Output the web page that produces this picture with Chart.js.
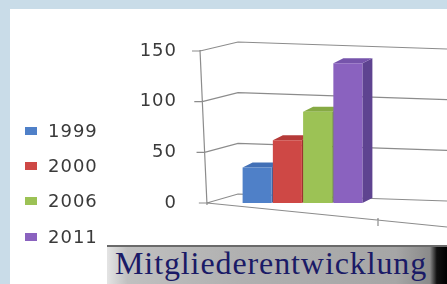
<!DOCTYPE html>
<html lang="de">
<head>
<meta charset="utf-8">
<script src="https://cdn.jsdelivr.net/npm/chart.js@4.4.0/dist/chart.umd.min.js"></script>
<style>
    html, body { margin: 0; padding: 0; }
    body { width: 447px; height: 284px; background: #c9dce8; position: relative; overflow: hidden; }
    #panel { position: absolute; left: 10px; top: 9px; right: 0; bottom: 0; background: #fff; }
    #chart { position: absolute; left: 0; top: 0; }
    #legend { position: absolute; left: 25px; top: 120px; font-family: 'DejaVu Sans', sans-serif; font-size: 18px; color: #3a3a3a; }
    #legend .item { position: absolute; left: 0; white-space: nowrap; letter-spacing: 1px; line-height: 22px; }
    #legend .box { display: inline-block; width: 12px; height: 8px; margin-right: 11px; vertical-align: 2px; }
    #title {
        position: absolute; left: 107px; top: 245px; width: 340px; height: 39px;
        background: linear-gradient(to right, #e4e4e4 0%, #c0c0c0 6%, #b0b0b0 40%, #a6a6a6 85%, #8a8a8a 95%, #111 97%, #000 100%);
        border-top: 2px solid #6a6a6a; box-sizing: border-box;
    }
    #title span {
        position: absolute; left: 8px; top: -2px;
        font-family: 'Liberation Serif', 'Times New Roman', serif; font-size: 32px; letter-spacing: 0.9px; color: #1a1a66;
    }
</style>
</head>
<body>
<div id="panel"></div>
<canvas id="chart" width="447" height="284"></canvas>
<div id="legend"></div>
<div id="title"><span>Mitgliederentwicklung</span></div>
<script>
    const years = ['1999', '2000', '2006', '2011'];
    const members = [35, 62, 90, 138];
    const yTicks = [0, 50, 100, 150];

    const frontColors = ['#4f80c8', '#ce4845', '#9cc255', '#8a62bf'];
    const topColors = ['#4270b6', '#b53a38', '#86aa44', '#7654ab'];
    const sideColors = ['#3b619d', '#9d3230', '#73933a', '#5e4390'];

    // legend as html, rows taken from the years list
    const legendEl = document.getElementById('legend');
    const rowY = [0, 35, 70, 106];
    years.forEach((yr, i) => {
        const item = document.createElement('div');
        item.className = 'item';
        item.style.top = rowY[i] + 'px';
        item.innerHTML = `<span class="box" style="background:${frontColors[i]}"></span>${yr}`;
        legendEl.appendChild(item);
    });

    const depth = { dx: 10, dy: -5 };

    const threeD = {
        id: 'threeD',
        beforeDraw(chart) {
            chart.ctx.letterSpacing = '1px';
        },
        beforeDatasetsDraw(chart) {
            const ctx = chart.ctx;
            const area = chart.chartArea;
            const y = chart.scales.y;
            const W = chart.width;
            const axisX = py => area.left - 3 + (py - area.top) * 0.045;

            ctx.save();
            ctx.letterSpacing = '0px';
            ctx.strokeStyle = '#8c8c8c';
            ctx.lineWidth = 1.2;
            ctx.beginPath();
            y.ticks.forEach(t => {
                const py = y.getPixelForValue(t.value);
                const fx = axisX(py);
                ctx.moveTo(fx - 8, py);
                ctx.lineTo(fx, py);
                ctx.lineTo(area.left + 35, py - 9);
                ctx.lineTo(W, py - 2);
            });
            // slanted value axis
            ctx.moveTo(area.left - 3, area.top - 1);
            ctx.lineTo(area.left + 4, area.bottom + 2);
            // front edge of the floor
            ctx.moveTo(area.left + 4, area.bottom);
            ctx.lineTo(W, area.bottom + 24);
            // category divider tick
            const tx = area.right - 24;
            const ty = area.bottom + (tx - area.left - 4) * 24 / (W - area.left - 4);
            ctx.moveTo(tx, ty - 2);
            ctx.lineTo(tx, ty + 6);
            ctx.stroke();

            // depth faces of the bars, behind the front faces
            chart.data.datasets.forEach((ds, i) => {
                chart.getDatasetMeta(i).data.forEach(bar => {
                    const l = bar.x - bar.width / 2;
                    const r = bar.x + bar.width / 2;
                    ctx.fillStyle = sideColors[i];
                    ctx.beginPath();
                    ctx.moveTo(r, bar.y);
                    ctx.lineTo(r + depth.dx, bar.y + depth.dy);
                    ctx.lineTo(r + depth.dx, bar.base + depth.dy);
                    ctx.lineTo(r, bar.base);
                    ctx.closePath();
                    ctx.fill();
                    ctx.fillStyle = topColors[i];
                    ctx.beginPath();
                    ctx.moveTo(l, bar.y);
                    ctx.lineTo(l + depth.dx, bar.y + depth.dy);
                    ctx.lineTo(r + depth.dx, bar.y + depth.dy);
                    ctx.lineTo(r, bar.y);
                    ctx.closePath();
                    ctx.fill();
                });
            });
            ctx.restore();
        },
        afterDraw(chart) {
            chart.ctx.letterSpacing = '0px';
        }
    };

    new Chart(document.getElementById('chart'), {
        type: 'bar',
        data: {
            labels: [''],
            datasets: years.map((yr, i) => ({
                label: yr,
                data: [members[i]],
                backgroundColor: frontColors[i],
                categoryPercentage: 0.608,
                barPercentage: 0.96
            }))
        },
        options: {
            responsive: false,
            animation: false,
            devicePixelRatio: 1,
            layout: { padding: { left: 100, right: 45, top: 51, bottom: 81 } },
            plugins: {
                legend: { display: false },
                tooltip: { enabled: false }
            },
            scales: {
                x: { display: false },
                y: {
                    min: 0,
                    max: 150,
                    afterBuildTicks: axis => { axis.ticks = yTicks.map(v => ({ value: v })); },
                    afterFit: axis => { axis.width = 103; },
                    grid: { display: false, drawTicks: false },
                    border: { display: false },
                    ticks: {
                        padding: 26,
                        color: '#3a3a3a',
                        font: { family: 'DejaVu Sans', size: 18 }
                    }
                }
            }
        },
        plugins: [threeD]
    });
</script>
</body>
</html>
